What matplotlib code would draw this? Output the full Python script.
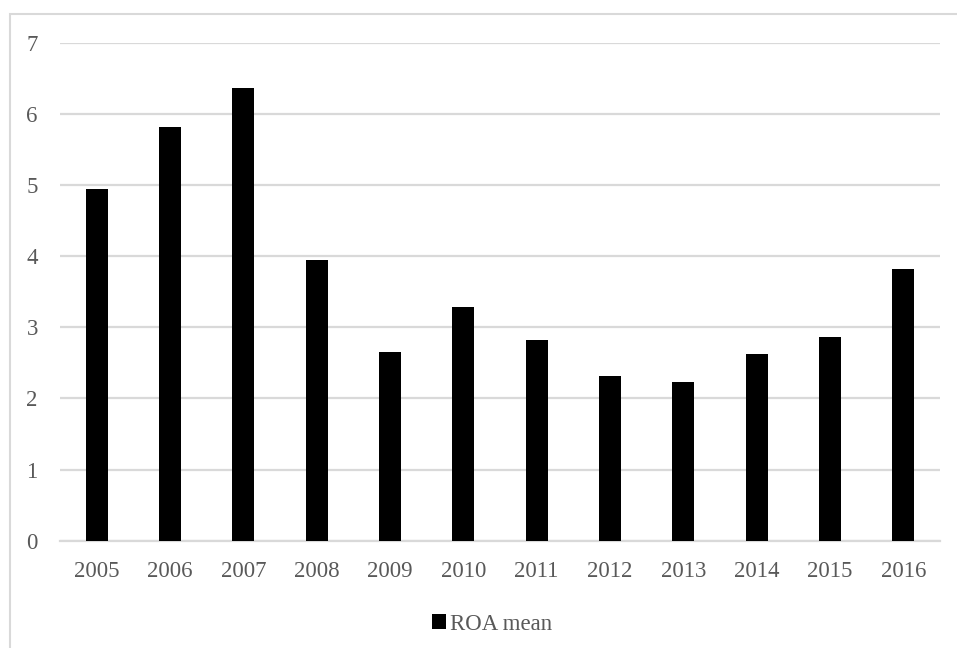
import matplotlib
matplotlib.use('Agg')
import matplotlib.pyplot as plt
from matplotlib.patches import Patch, Rectangle

# データ
years = ['2005', '2006', '2007', '2008', '2009', '2010',
         '2011', '2012', '2013', '2014', '2015', '2016']
roa_mean = [4.95, 5.82, 6.36, 3.94, 2.65, 3.28, 2.82, 2.32, 2.23, 2.62, 2.87, 3.82]
y_ticks = [0, 1, 2, 3, 4, 5, 6, 7]

plt.rcParams['font.family'] = ['Liberation Serif', 'DejaVu Serif']
text_color = '#595959'
grid_color = '#d9d9d9'

fig = plt.figure(figsize=(9.57, 6.48), dpi=100)
ax = fig.add_axes([60 / 957, 107.3 / 648, 880 / 957, 498 / 648])

x = range(len(years))
ax.bar(x, roa_mean, width=0.3, color='black', zorder=3)

ax.set_xlim(-0.5, len(years) - 0.5)
ax.set_ylim(0, 7)
ax.set_yticks(y_ticks)
ax.set_xticks(list(x))
ax.set_xticklabels(years)
ax.yaxis.grid(True, color=grid_color, linewidth=1.6, zorder=0)
ax.tick_params(axis='both', length=0, labelsize=16.5, labelcolor=text_color)
ax.tick_params(axis='y', pad=16)
ax.tick_params(axis='x', pad=14.5)
for side in ['top', 'right', 'left']:
    ax.spines[side].set_visible(False)
ax.spines['bottom'].set_color(grid_color)
ax.spines['bottom'].set_linewidth(1.6)

# 凡例
handle = Patch(facecolor='black', label='ROA mean')
fig.legend(handles=[handle], loc='center', bbox_to_anchor=(492 / 957, 1 - 624 / 648),
           frameon=False, fontsize=16.5, labelcolor=text_color,
           handlelength=0.6, handleheight=0.6, handletextpad=0.15)

# 外枠
fig.patches.append(Rectangle((10 / 957, -0.1), 1.2, 0.1 + (648 - 14) / 648,
                             transform=fig.transFigure, fill=False,
                             edgecolor=grid_color, linewidth=1.5))

fig.savefig('out.png', dpi=100)
